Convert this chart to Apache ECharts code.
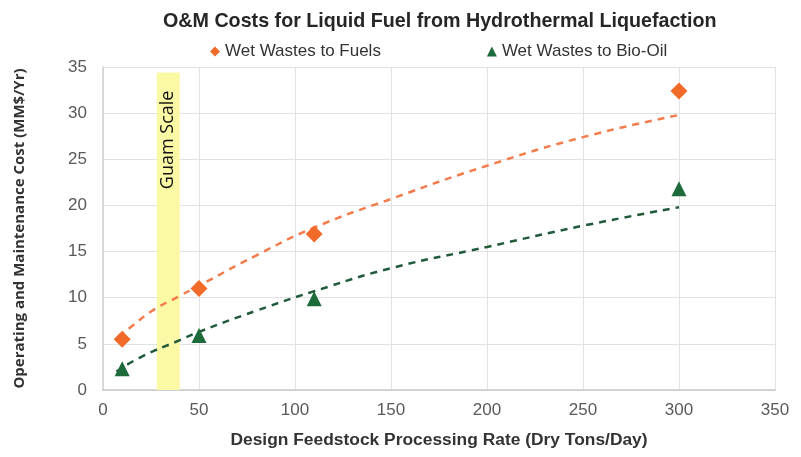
<!DOCTYPE html>
<html>
<head>
<meta charset="utf-8">
<script src="https://cdn.jsdelivr.net/npm/echarts@6/dist/echarts.min.js"></script>
<style>
  html, body { margin: 0; padding: 0; background: #fff; }
  #chart { width: 801px; height: 457px; }
</style>
</head>
<body>
<div id="chart"></div>
<script>
// measured points
const fuelsPoints = [[10, 5.5], [50, 11.0], [110, 16.9], [300, 32.4]];
const bioOilPoints = [[10, 2.3], [50, 5.9], [110, 9.9], [300, 21.8]];

// trend lines
const fuelsTrend = [[8, 5.8], [15, 6.9], [25, 8.5], [40, 10.2], [50, 11.3], [80, 14.6],
  [110, 17.6], [150, 20.7], [200, 24.3], [250, 27.4], [300, 29.8]];
const bioOilTrend = [[7, 2.0], [20, 3.6], [40, 5.4], [50, 6.3], [80, 8.6], [110, 10.7],
  [150, 13.2], [200, 15.5], [250, 17.8], [300, 19.8]];

// Guam scale band
const guamRange = [28, 40];

const plain = '"Liberation Sans", Arial, sans-serif';

const chart = echarts.init(document.getElementById('chart'));
chart.setOption({
  animation: false,
  title: {
    text: 'O&M Costs for Liquid Fuel from Hydrothermal Liquefaction',
    left: 158,
    top: 7,
    textStyle: { fontFamily: plain, fontSize: 19.7, fontWeight: 'bold', color: '#262626' }
  },
  legend: {
    top: 38,
    left: 205,
    itemGap: 106,
    itemWidth: 10,
    itemHeight: 10,
    data: [
      { name: 'Wet Wastes to Fuels', icon: 'diamond' },
      { name: 'Wet Wastes to Bio-Oil', icon: 'triangle' }
    ],
    textStyle: { fontFamily: plain, fontSize: 17, color: '#333' }
  },
  grid: { left: 103, right: 26, top: 67, bottom: 67 },
  xAxis: {
    type: 'value',
    min: 0, max: 350, interval: 50,
    name: 'Design Feedstock Processing Rate (Dry Tons/Day)',
    nameLocation: 'middle',
    nameGap: 42,
    nameTextStyle: { fontFamily: plain, fontSize: 17.4, fontWeight: 'bold', color: '#333' },
    axisLine: { show: true, lineStyle: { color: '#c8c8c8', width: 1.5 } },
    axisTick: { show: false },
    axisLabel: { fontFamily: plain, fontSize: 17, color: '#595959', margin: 12 },
    splitLine: { show: true, lineStyle: { color: '#e2e2e2' } }
  },
  yAxis: {
    type: 'value',
    min: 0, max: 35, interval: 5,
    name: 'Operating and Maintenance Cost (MM$/Yr)',
    nameLocation: 'middle',
    nameGap: 76,
    nameTextStyle: { fontFamily: '"Open Sans", "Noto Sans", sans-serif', fontSize: 15, fontWeight: 'bold', color: '#333' },
    axisLine: { show: true, lineStyle: { color: '#d0d0d0', width: 1.5 } },
    axisTick: { show: false },
    axisLabel: { fontFamily: plain, fontSize: 17, color: '#595959', margin: 16 },
    splitLine: { show: true, lineStyle: { color: '#e2e2e2' } }
  },
  series: [
    {
      name: 'Guam Scale',
      type: 'line',
      data: [],
      silent: true,
      markArea: {
        silent: true,
        itemStyle: { color: '#fbf9a6' },
        label: {
          show: true,
          position: 'insideTop',
          rotate: 90,
          align: 'right',
          verticalAlign: 'middle',
          distance: 18,
          fontFamily: '"Open Sans", "Noto Sans", sans-serif',
          fontSize: 18,
          color: '#111'
        },
        data: [[
          { name: 'Guam Scale', xAxis: guamRange[0], yAxis: 0 },
          { xAxis: guamRange[1], yAxis: 34.4 }
        ]]
      }
    },
    {
      name: 'Fuels trend',
      type: 'line',
      data: fuelsTrend,
      smooth: true,
      showSymbol: false,
      silent: true,
      lineStyle: { color: '#f27c4c', width: 2.5, type: [7, 6] },
      z: 3
    },
    {
      name: 'Bio-Oil trend',
      type: 'line',
      data: bioOilTrend,
      smooth: true,
      showSymbol: false,
      silent: true,
      lineStyle: { color: '#1f5a3a', width: 2.5, type: [7, 6] },
      z: 3
    },
    {
      name: 'Wet Wastes to Fuels',
      type: 'scatter',
      data: fuelsPoints,
      symbol: 'diamond',
      symbolSize: 17,
      itemStyle: { color: '#f26a2a', opacity: 1 },
      z: 5
    },
    {
      name: 'Wet Wastes to Bio-Oil',
      type: 'scatter',
      data: bioOilPoints,
      symbol: 'triangle',
      symbolSize: 15,
      itemStyle: { color: '#1d6b3a', opacity: 1 },
      z: 5
    }
  ]
});
</script>
</body>
</html>
